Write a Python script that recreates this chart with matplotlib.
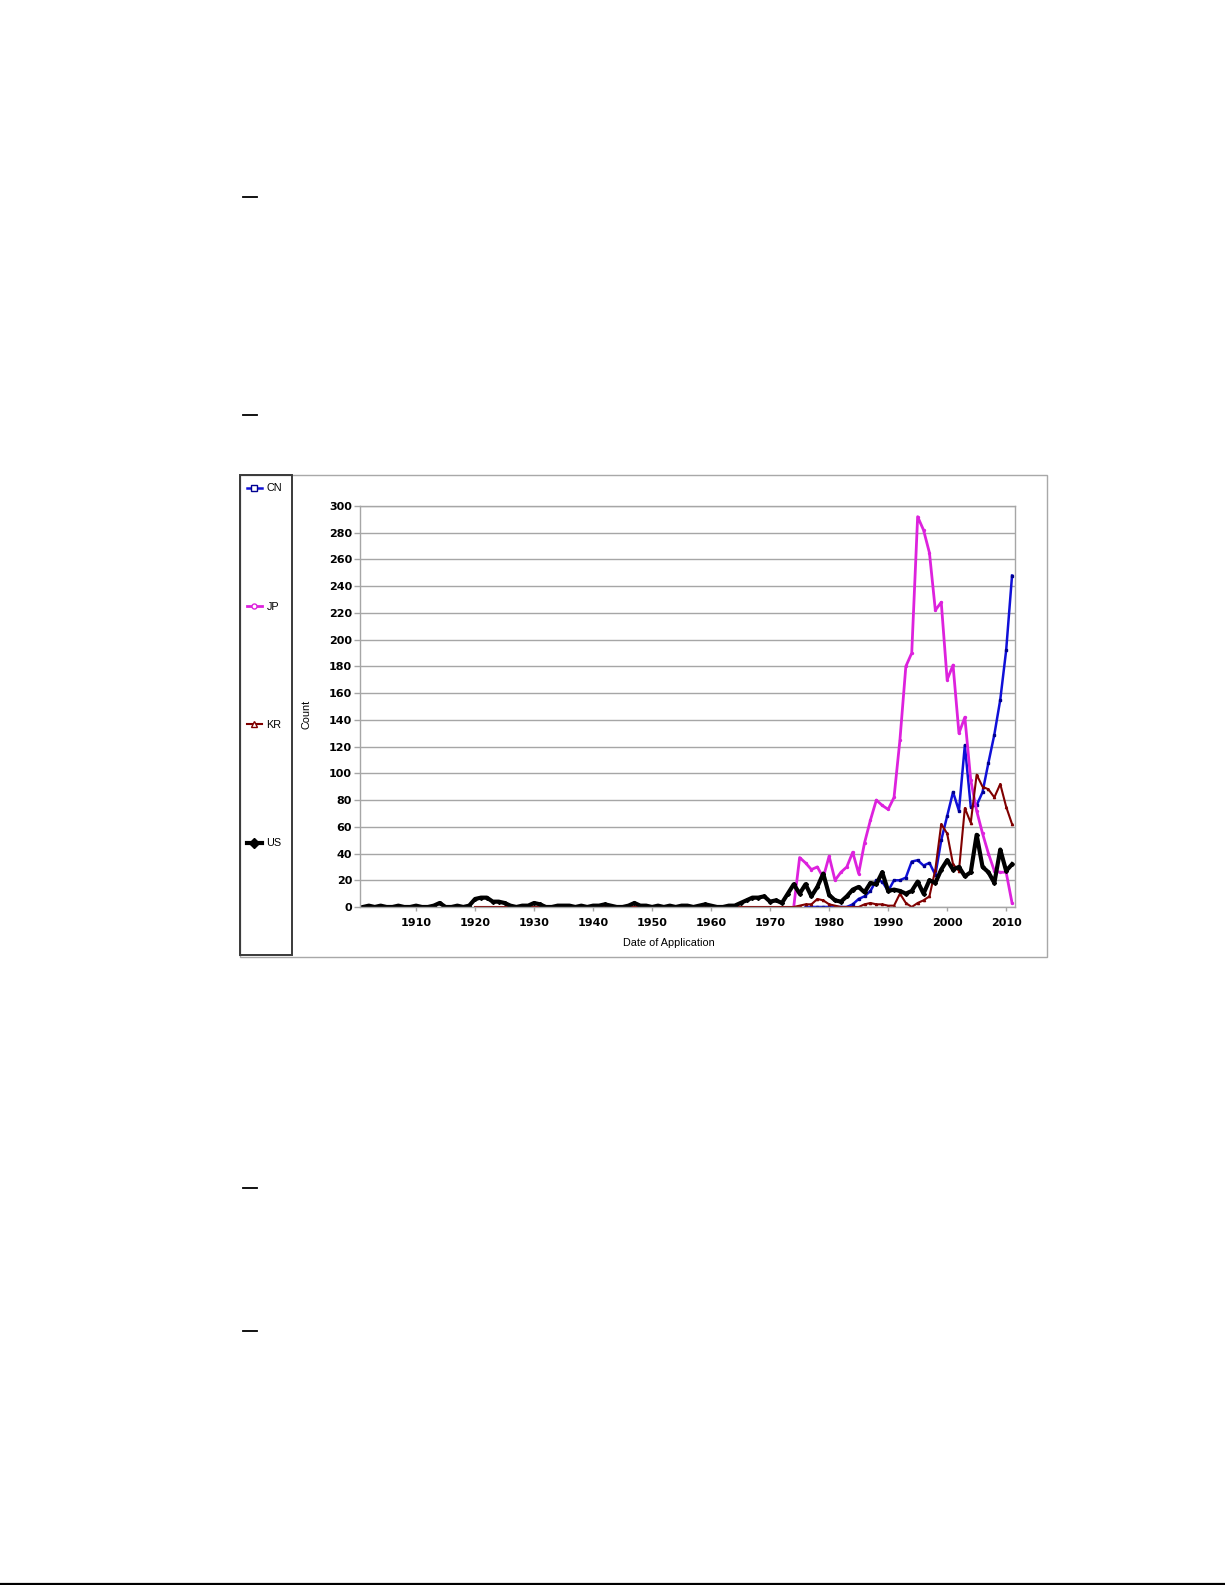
import numpy as np
import matplotlib.pyplot as plt
from matplotlib.lines import Line2D
from matplotlib.patches import Rectangle

# applications per year
us_years = np.arange(1901, 2012)
us = [0, 1, 0, 1, 0, 0, 1, 0, 0, 1,
      0, 0, 1, 3, 0, 0, 1, 0, 1, 6,
      7, 7, 4, 4, 3, 1, 0, 1, 1, 3,
      2, 0, 0, 1, 1, 1, 0, 1, 0, 1,
      1, 2, 1, 0, 0, 1, 3, 1, 1, 0,
      1, 0, 1, 0, 1, 1, 0, 1, 2, 1,
      0, 0, 1, 1, 3, 5, 7, 7, 8, 4,
      5, 3, 10, 17, 10, 17, 8, 15, 25, 9,
      5, 4, 8, 13, 15, 11, 18, 17, 26, 12,
      13, 12, 10, 12, 19, 10, 20, 18, 28, 35,
      28, 30, 23, 26, 54, 30, 26, 18, 43, 27,
      32]

kr_years = np.arange(1920, 2012)
kr = [0, 0, 0, 0, 0, 0, 0, 0, 0, 0,
      0, 0, 0, 0, 0, 0, 0, 0, 0, 0,
      0, 0, 0, 0, 0, 0, 0, 0, 0, 0,
      0, 0, 0, 0, 0, 0, 0, 0, 0, 0,
      0, 0, 0, 0, 0, 0, 0, 0, 0, 0,
      0, 0, 0, 0, 0,
      1, 2, 2, 6, 5, 2, 1, 0, 0, 0,
      0, 2, 3, 2, 2, 1, 1, 10, 3, 0,
      3, 5, 8, 28, 62, 55, 32, 27, 74, 63,
      99, 90, 88, 82, 92, 75, 62]

jp_years = np.arange(1974, 2012)
jp = [0, 37, 33, 28, 30, 22,
      38, 20, 26, 30, 41, 25, 48, 65, 80, 76,
      73, 82, 125, 180, 190, 292, 282, 265, 222, 228,
      170, 181, 130, 142, 95, 72, 55, 40, 27, 26,
      26, 3]

cn_years = np.arange(1976, 2012)
cn = [0, 0, 0, 0, 0, 0, 0, 0,
      2, 6, 8, 12, 20, 19,
      12, 20, 20, 22, 34, 35, 31, 33, 24, 50,
      68, 86, 72, 121, 75, 76, 86, 108, 129, 155,
      192, 248]

xticks = [1910, 1920, 1930, 1940, 1950, 1960, 1970, 1980, 1990, 2000, 2010]
yticks = list(range(0, 301, 20))

W, H = 1225, 1585
def fx(px):
    return px / W
def fy(py):
    return 1 - py / H

fig = plt.figure(figsize=(W / 100, H / 100), dpi=100)
fig.patch.set_facecolor('white')

# page marks
for yy in [197, 415, 1188, 1331]:
    fig.add_artist(Line2D([fx(243), fx(257)], [fy(yy), fy(yy)], color='black', lw=1.3))
fig.add_artist(Line2D([0, 1], [fy(1584), fy(1584)], color='black', lw=1.6))

# chart frame and legend box
fig.add_artist(Rectangle((fx(240), fy(957)), fx(1047) - fx(240), fy(475) - fy(957),
                         transform=fig.transFigure, fill=False, edgecolor='#a8a8a8', lw=1.0))
fig.add_artist(Rectangle((fx(240), fy(955)), fx(292) - fx(240), fy(475) - fy(955),
                         transform=fig.transFigure, fill=False, edgecolor='#3a3a3a', lw=1.4))

ax = fig.add_axes([fx(360), fy(907), fx(1015) - fx(360), fy(506) - fy(907)])
grid_c = '#a6a6a6'

l_cn, = ax.plot(cn_years, cn, '-', color='#1010d8', lw=1.8, marker='s', ms=1.9,
                mfc='#000090', mec='#000090', label='CN')
l_jp, = ax.plot(jp_years, jp, '-', color='#dd22dd', lw=2.0, marker='o', ms=1.4,
                mfc='#dd22dd', mec='#dd22dd', label='JP')
l_kr, = ax.plot(kr_years, kr, '-', color='#800000', lw=1.5, marker='^', ms=1.6,
                mfc='#800000', mec='#800000', label='KR')
l_us, = ax.plot(us_years, us, '-', color='black', lw=3.0, marker='D', ms=2.0,
                mfc='black', mec='black', label='US')

ax.set_xlim(1900.5, 2011.5)
ax.set_ylim(0, 300)
ax.set_xticks(xticks)
ax.set_yticks(yticks)
ax.grid(axis='y', color=grid_c, lw=1.0)
ax.set_axisbelow(True)
for s in ax.spines.values():
    s.set_color(grid_c)
    s.set_linewidth(1.0)
ax.tick_params(axis='y', length=4.3, width=1.0, color=grid_c, pad=1.4)
ax.tick_params(axis='x', length=3.0, width=1.0, color=grid_c, pad=5.2)
for lab in ax.get_xticklabels() + ax.get_yticklabels():
    lab.set_fontfamily('DejaVu Sans')
    lab.set_fontweight('bold')
    lab.set_fontsize(8)

ax.set_xlabel('Date of Application', family='Liberation Sans', fontsize=7.8, va='center')
ax.xaxis.set_label_coords((669 - 360) / 655, (907 - 943) / 401)
ax.set_ylabel('Count', family='Liberation Sans', fontsize=7.8, va='center')
ax.yaxis.set_label_coords((306.5 - 360) / 655, (907 - 714) / 401)

leg = fig.legend(handles=[l_cn, l_jp, l_kr, l_us], loc='upper left',
                 bbox_to_anchor=(fx(247), fy(483.5)), frameon=False,
                 prop={'family': 'Liberation Sans', 'size': 7.8},
                 borderpad=0, borderaxespad=0, labelspacing=10.0,
                 handlelength=1.35, handletextpad=0.45, markerscale=2.6)
for h in leg.legend_handles:
    h.set_markerfacecolor('white')
leg.legend_handles[3].set_markerfacecolor('black')

fig.savefig('out.png', dpi=100)
